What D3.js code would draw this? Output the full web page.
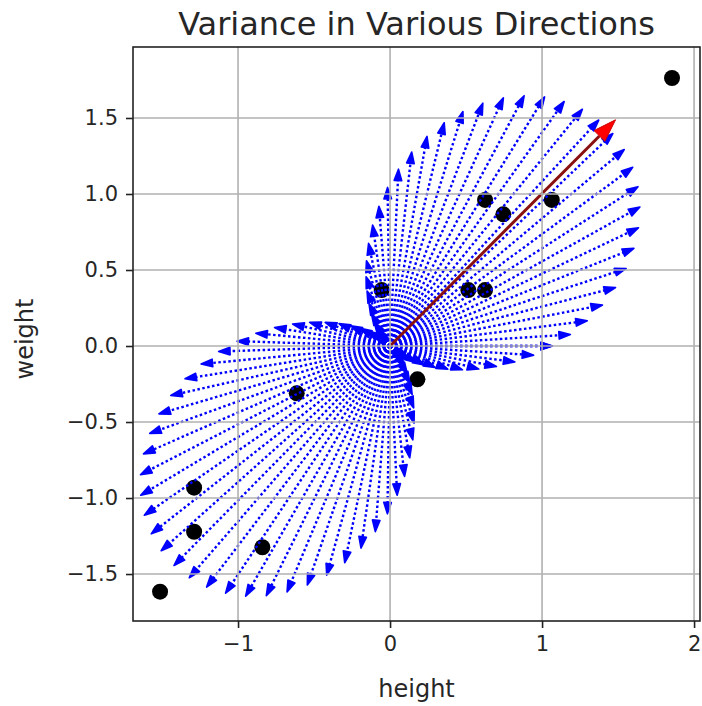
<!DOCTYPE html>
<html>
<head>
<meta charset="utf-8">
<script src="https://cdn.jsdelivr.net/npm/d3@7"></script>
<style>
  html, body { margin: 0; padding: 0; background: #fff; }
  svg { display: block; font-family: "DejaVu Sans", sans-serif; }
</style>
</head>
<body>
<svg id="chart" width="702" height="706"></svg>
<script>
// Standardised height / weight samples
const height = [1.855, -1.513, -1.289, -1.289, -0.840, -0.614, 0.180, -0.055, 0.515, 0.625, 0.625, 0.745, 1.064];
const weight = [1.763, -1.616, -0.932, -1.222, -1.324, -0.311, -0.219, 0.368, 0.368, 0.368, 0.961, 0.866, 0.961];

const xTicks = [-1, 0, 1, 2];
const yTicks = [-1.5, -1.0, -0.5, 0.0, 0.5, 1.0, 1.5];

const directionCount = 100;          // unit directions sampled around the circle
const blueHead = { width: 0.05, length: 0.075 };
const redHead = { width: 0.1, length: 0.15 };

const margin = { left: 133, right: 2, top: 47, bottom: 85 };
const W = 702, H = 706;
const x = d3.scaleLinear().domain([-1.691, 2.039]).range([margin.left, W - margin.right]);
const y = d3.scaleLinear().domain([-1.809, 1.967]).range([H - margin.bottom, margin.top]);

const svg = d3.select("#chart");
const fmtX = d => d3.format("d")(d).replace("-", "\u2212");
const fmtY = d => d3.format(".1f")(d).replace("-", "\u2212");

// Covariance (population) of the samples
const n = height.length;
const mx = d3.mean(height), my = d3.mean(weight);
let sxx = 0, syy = 0, sxy = 0;
for (let i = 0; i < n; i++) {
  const dx = height[i] - mx, dy = weight[i] - my;
  sxx += dx * dx; syy += dy * dy; sxy += dx * dy;
}
sxx /= n; syy /= n; sxy /= n;
const varianceAlong = (ux, uy) => sxx * ux * ux + 2 * sxy * ux * uy + syy * uy * uy;

// Largest eigenpair of the covariance matrix
const tr = sxx + syy, det = sxx * syy - sxy * sxy;
const lambda = tr / 2 + Math.sqrt(tr * tr / 4 - det);
let ex = sxy, ey = lambda - sxx;
const en = Math.hypot(ex, ey); ex /= en; ey /= en;

// Samples
svg.append("g").selectAll("circle")
  .data(d3.range(n))
  .join("circle")
  .attr("cx", i => x(height[i]))
  .attr("cy", i => y(weight[i]))
  .attr("r", 8)
  .attr("fill", "#000");

function arrowParts(ux, uy, len, head) {
  const bx = ux * len, by = uy * len;
  const tx = ux * (len + head.length), ty = uy * (len + head.length);
  const px = -uy * head.width / 2, py = ux * head.width / 2;
  return {
    shaft: [[x(0), y(0)], [x(bx), y(by)]],
    head: [[x(bx + px), y(by + py)], [x(tx), y(ty)], [x(bx - px), y(by - py)]]
  };
}

// Variance along each sampled direction
const dirs = d3.range(directionCount).map(i => 2 * Math.PI * i / (directionCount - 1));
const gBlue = svg.append("g");
dirs.forEach(t => {
  const ux = Math.cos(t), uy = Math.sin(t);
  const a = arrowParts(ux, uy, varianceAlong(ux, uy), blueHead);
  gBlue.append("line")
    .attr("x1", a.shaft[0][0]).attr("y1", a.shaft[0][1])
    .attr("x2", a.shaft[1][0]).attr("y2", a.shaft[1][1])
    .attr("stroke", "#0000ff").attr("stroke-width", 2.4)
    .attr("stroke-dasharray", "2.5 2.5");
  gBlue.append("path")
    .attr("d", "M" + a.head.map(p => p.join(",")).join("L") + "Z")
    .attr("fill", "#0000ff").attr("stroke", "#0000ff").attr("stroke-width", 1.6)
    .attr("stroke-linejoin", "round");
});

// Principal direction
const red = arrowParts(ex, ey, lambda, redHead);
svg.append("line")
  .attr("x1", red.shaft[0][0]).attr("y1", red.shaft[0][1])
  .attr("x2", red.shaft[1][0]).attr("y2", red.shaft[1][1])
  .attr("stroke", "#8a1010").attr("stroke-width", 3);
svg.append("path")
  .attr("d", "M" + red.head.map(p => p.join(",")).join("L") + "Z")
  .attr("fill", "#ff0000").attr("stroke", "#d00000").attr("stroke-width", 1);

// Grid
const grid = svg.append("g").attr("stroke", "#b0b0b0").attr("stroke-width", 1.6);
xTicks.forEach(t => grid.append("line")
  .attr("x1", x(t)).attr("x2", x(t)).attr("y1", margin.top).attr("y2", H - margin.bottom));
yTicks.forEach(t => grid.append("line")
  .attr("y1", y(t)).attr("y2", y(t)).attr("x1", margin.left).attr("x2", W - margin.right));

// Axes
const xAxis = svg.append("g").attr("transform", `translate(0,${H - margin.bottom})`)
  .call(d3.axisBottom(x).tickValues(xTicks).tickFormat(fmtX).tickSize(7).tickPadding(8));
const yAxis = svg.append("g").attr("transform", `translate(${margin.left},0)`)
  .call(d3.axisLeft(y).tickValues(yTicks).tickFormat(fmtY).tickSize(7).tickPadding(8));
[xAxis, yAxis].forEach(g => {
  g.select(".domain").remove();
  g.selectAll(".tick line").attr("stroke", "#222").attr("stroke-width", 1.6);
  g.selectAll(".tick text").attr("fill", "#262626").style("font-size", "21px")
    .style("font-family", "'DejaVu Sans', sans-serif");
});

// Frame
svg.append("rect")
  .attr("x", margin.left).attr("y", margin.top)
  .attr("width", W - margin.left - margin.right)
  .attr("height", H - margin.top - margin.bottom)
  .attr("fill", "none").attr("stroke", "#222").attr("stroke-width", 1.6);

// Labels
svg.append("text")
  .attr("x", (margin.left + W - margin.right) / 2).attr("y", 35)
  .attr("text-anchor", "middle").attr("fill", "#262626")
  .style("font-size", "32px").text("Variance in Various Directions");
svg.append("text")
  .attr("x", (margin.left + W - margin.right) / 2).attr("y", 697)
  .attr("text-anchor", "middle").attr("fill", "#262626")
  .style("font-size", "24px").text("height");
svg.append("text")
  .attr("transform", `translate(33,${(margin.top + H - margin.bottom) / 2 + 5}) rotate(-90)`)
  .attr("text-anchor", "middle").attr("fill", "#262626")
  .style("font-size", "24px").text("weight");
</script>
</body>
</html>
